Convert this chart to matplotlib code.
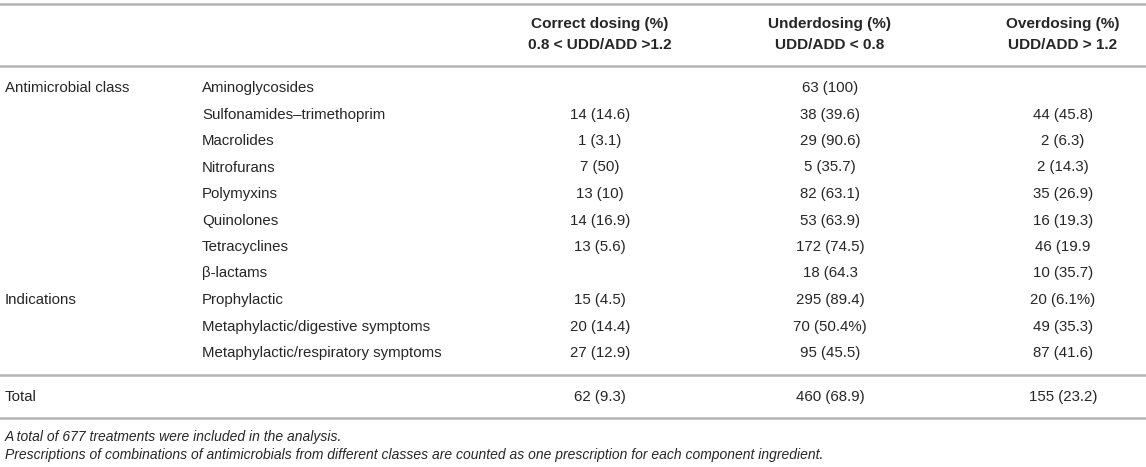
import matplotlib
matplotlib.use("Agg")
import matplotlib.pyplot as plt
from matplotlib.lines import Line2D

plt.rcParams['font.family'] = ['Liberation Sans', 'DejaVu Sans']

W, H = 1146, 467

headers_line1 = ["Correct dosing (%)", "Underdosing (%)", "Overdosing (%)"]
headers_line2 = ["0.8 < UDD/ADD >1.2", "UDD/ADD < 0.8", "UDD/ADD > 1.2"]

groups = ["Antimicrobial class", "", "", "", "", "", "", "",
          "Indications", "", ""]
categories = ["Aminoglycosides", "Sulfonamides\u2013trimethoprim", "Macrolides",
              "Nitrofurans", "Polymyxins", "Quinolones", "Tetracyclines",
              "\u03b2-lactams", "Prophylactic", "Metaphylactic/digestive symptoms",
              "Metaphylactic/respiratory symptoms"]
correct = ["", "14 (14.6)", "1 (3.1)", "7 (50)", "13 (10)", "14 (16.9)",
           "13 (5.6)", "", "15 (4.5)", "20 (14.4)", "27 (12.9)"]
under = ["63 (100)", "38 (39.6)", "29 (90.6)", "5 (35.7)", "82 (63.1)",
         "53 (63.9)", "172 (74.5)", "18 (64.3", "295 (89.4)", "70 (50.4%)",
         "95 (45.5)"]
over = ["", "44 (45.8)", "2 (6.3)", "2 (14.3)", "35 (26.9)", "16 (19.3)",
        "46 (19.9", "10 (35.7)", "20 (6.1%)", "49 (35.3)", "87 (41.6)"]
total_label = "Total"
totals = ["62 (9.3)", "460 (68.9)", "155 (23.2)"]
footnotes = ["A total of 677 treatments were included in the analysis.",
             "Prescriptions of combinations of antimicrobials from different classes are counted as one prescription for each component ingredient."]

fig = plt.figure(figsize=(W / 100, H / 100), dpi=100)
fig.patch.set_facecolor("white")

TXT = "#262626"
LINE = "#b4b4b4"
FS = 10.8


def fy(py):
    return 1 - py / H


def fx(px):
    return px / W


def hline(py):
    fig.add_artist(Line2D([0, 1], [fy(py), fy(py)], transform=fig.transFigure,
                          color=LINE, lw=1.8))


col_x = [600, 830, 1063]

# header
hline(4)
for i, cx in enumerate(col_x):
    fig.text(fx(cx), fy(24), headers_line1[i], ha="center", va="center",
             fontsize=11.1, fontweight="bold", color=TXT)
    fig.text(fx(cx), fy(45), headers_line2[i], ha="center", va="center",
             fontsize=11.1, fontweight="bold", color=TXT)
hline(66)

# body rows
y0, dy = 88, 26.5
for r in range(len(categories)):
    y = y0 + r * dy
    if groups[r]:
        fig.text(fx(5), fy(y), groups[r], ha="left", va="center",
                 fontsize=FS, color=TXT)
    fig.text(fx(202), fy(y), categories[r], ha="left", va="center",
             fontsize=FS, color=TXT)
    for cx, vals in zip(col_x, (correct, under, over)):
        if vals[r]:
            fig.text(fx(cx), fy(y), vals[r], ha="center", va="center",
                     fontsize=FS, color=TXT)

hline(375)
fig.text(fx(5), fy(397), total_label, ha="left", va="center", fontsize=FS, color=TXT)
for cx, v in zip(col_x, totals):
    fig.text(fx(cx), fy(397), v, ha="center", va="center", fontsize=FS, color=TXT)
hline(418)

fig.text(fx(5), fy(437), footnotes[0], ha="left", va="center", fontsize=10.0,
         style="italic", color=TXT)
fig.text(fx(5), fy(455), footnotes[1], ha="left", va="center", fontsize=10.0,
         style="italic", color=TXT)

fig.savefig("out.png", dpi=100, facecolor="white")
